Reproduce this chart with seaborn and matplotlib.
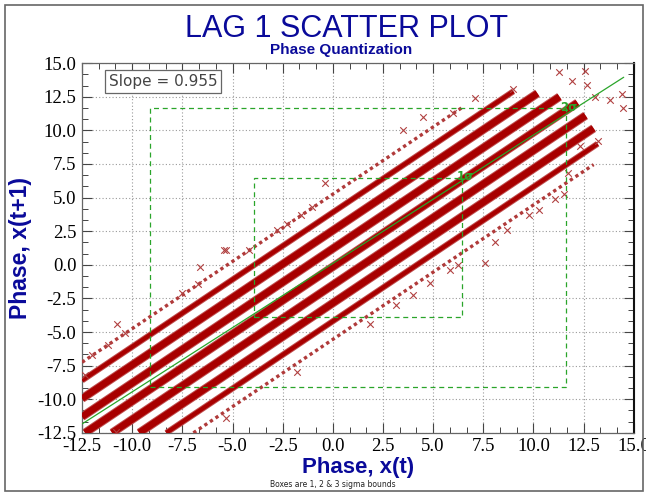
import numpy as np
import pandas as pd
import seaborn as sns
import matplotlib.pyplot as plt
from matplotlib.ticker import MultipleLocator, AutoMinorLocator
from matplotlib.patches import Rectangle

# Quantized phase bands: x(t+1) = x(t) + offset
band_offset = [5.25, 3.9, 2.55, 1.2, -0.15, -1.5, -2.85, -4.2, -5.55]
band_x_start = [-12.5, -12.5, -12.5, -12.5, -12.35, -11.0, -9.65, -8.3, -6.95]
band_x_end = [6.5, 9.0, 10.2, 11.3, 12.2, 12.6, 13.0, 13.2, 13.0]
band_count = [150, 900, 3000, 4000, 4500, 4000, 3000, 900, 200]

# stray points off the main bands
stray_x = [11.3, 12.56, 11.9, 12.66, 14.4, 14.45, 13.8, 13.06, 13.2, 12.3, 11.7, 11.5,
           11.07, 10.3, 9.8, 8.7, 8.1, 9.0, 7.1, 6.0, 4.5, 3.5,
           7.58, 6.23, 5.84, 4.84, 4.0, 3.15, 1.85,
           -10.76, -11.2, -10.36, -12.0, -12.35, -6.6, -5.3, -6.7, -7.5, -5.3, -1.8, -10.8,
           -1.04, -1.6, -2.8, -2.3, -0.4, -5.4, -4.2]
stray_y = [14.35, 14.4, 13.7, 13.36, 12.7, 11.65, 12.25, 12.5, 9.2, 8.8, 6.8, 5.3,
           4.9, 4.1, 3.7, 2.6, 1.7, 13.1, 12.4, 11.3, 11.0, 10.0,
           0.15, 0.0, -0.38, -1.36, -2.25, -3.0, -4.4,
           -4.4, -6.0, -5.1, -6.7, -8.2, -0.13, 1.1, -1.4, -2.1, -11.4, -8.0, -12.4,
           4.3, 3.7, 2.6, 3.0, 6.1, 1.1, 1.1]

# least squares fit
fit_slope = 0.955
fit_intercept = 0.1
fit_x_range = [-12.5, 14.5]

# sigma boxes
sigma_center = 1.27
sigma = 5.18
sigma_levels = [1, 2, 3]

red = '#a80000'
green = '#2aa52a'
blue = '#0a0a9a'

fig = plt.figure(figsize=(6.46, 4.93), dpi=100)
ax = fig.add_axes([0.127, 0.122, 0.854, 0.750])
sns.set_style('white')

# bands
for i in range(len(band_offset)):
    xs = [band_x_start[i], band_x_end[i]]
    ys = [x + band_offset[i] for x in xs]
    c = band_count[i]
    if c >= 2000:
        sns.lineplot(x=xs, y=ys, ax=ax, color='#c05050', lw=6.2, solid_capstyle='butt', zorder=2)
        sns.lineplot(x=xs, y=ys, ax=ax, color=red, lw=4.8, solid_capstyle='butt', zorder=3)
    elif c >= 500:
        sns.lineplot(x=xs, y=ys, ax=ax, color='#c05050', lw=4.4, solid_capstyle='butt', zorder=2)
        sns.lineplot(x=xs, y=ys, ax=ax, color=red, lw=3.0, solid_capstyle='butt', zorder=3)
    else:
        sns.lineplot(x=xs, y=ys, ax=ax, color='#b03a3a', lw=2.4, linestyle=(0, (1, 1)), zorder=3)

sns.scatterplot(x=stray_x, y=stray_y, ax=ax, marker='x', color='#b04040', s=22, linewidth=0.8, zorder=3)

# fit line
fx = np.array(fit_x_range)
sns.lineplot(x=fx, y=fit_slope * fx + fit_intercept, ax=ax, color=green, lw=0.9, zorder=4)

# sigma boxes
for k in sigma_levels:
    lo = sigma_center - k * sigma
    w = 2 * k * sigma
    ax.add_patch(Rectangle((lo, lo), w, w, fill=False, edgecolor=green, lw=0.9,
                           linestyle=(0, (4, 3)), zorder=4))
    ax.text(lo + w + 0.15, lo + w + 0.1, f'{k}\u03c3', color=green, fontsize=8.5, fontweight='bold',
            ha='center', va='center', zorder=5, clip_on=True)

ax.set_xlim(-12.5, 15.0)
ax.set_ylim(-12.5, 15.0)
ax.xaxis.set_major_locator(MultipleLocator(2.5))
ax.yaxis.set_major_locator(MultipleLocator(2.5))
ax.xaxis.set_minor_locator(AutoMinorLocator(3))
ax.yaxis.set_minor_locator(AutoMinorLocator(3))
ax.xaxis.set_major_formatter(plt.FormatStrFormatter('%.1f'))
ax.yaxis.set_major_formatter(plt.FormatStrFormatter('%.1f'))
ax.grid(which='major', color='#9a9a9a', lw=0.8, linestyle=(0, (1, 2)))
ax.set_axisbelow(True)
ax.tick_params(which='both', direction='in', top=True, right=True, color='#444444')
ax.tick_params(which='major', length=7, width=0.8, pad=4)
ax.tick_params(which='minor', length=4, width=0.7)
for lab in ax.get_xticklabels() + ax.get_yticklabels():
    lab.set_family('Liberation Serif')
    lab.set_fontsize(13.5)
for s in ['left', 'bottom', 'top']:
    ax.spines[s].set_color('#666666')
    ax.spines[s].set_linewidth(0.9)
ax.spines['right'].set_color('#111111')
ax.spines['right'].set_linewidth(1.5)

ax.set_xlabel('Phase, x(t)', fontsize=16, fontweight='bold', color=blue,
              family='Liberation Sans', labelpad=1)
ax.set_ylabel('Phase, x(t+1)', fontsize=16.5, fontweight='bold', color=blue,
              family='Liberation Sans', labelpad=4)

ax.text(0.147, 0.951, 'Slope = 0.955', transform=ax.transAxes, fontsize=11, color='#444444',
        ha='center', va='center', family='DejaVu Sans',
        bbox=dict(boxstyle='square,pad=0.25', facecolor='white', edgecolor='#666666', lw=0.9),
        zorder=6)

fig.text(0.536, 0.942, 'LAG 1 SCATTER PLOT', fontsize=22, color=blue, ha='center', va='center',
         family='Liberation Sans')
fig.text(0.528, 0.899, 'Phase Quantization', fontsize=11, fontweight='bold', color=blue,
         ha='center', va='center', family='Liberation Sans')
fig.text(0.515, 0.017, 'Boxes are 1, 2 & 3 sigma bounds', fontsize=5.5, color='#222222',
         ha='center', va='center', family='DejaVu Sans')

fig.patches.append(Rectangle((0.0077, 0.004), 0.988, 0.986, transform=fig.transFigure,
                             fill=False, edgecolor='#666666', lw=1.2))

fig.savefig('out.png', dpi=100, facecolor='white')
